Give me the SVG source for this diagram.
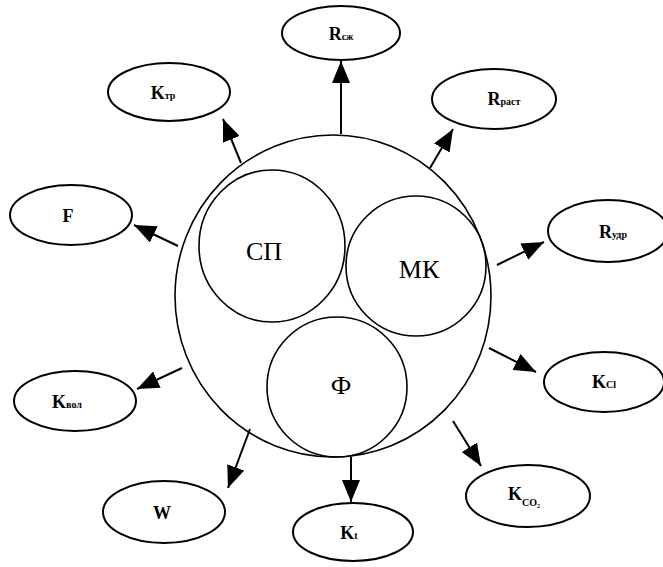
<svg xmlns="http://www.w3.org/2000/svg" width="663" height="567" viewBox="0 0 663 567">
<style>
.n{fill:#fff;stroke:#000;stroke-width:2}
.c{fill:none;stroke:#000;stroke-width:1.6}
.l{font-family:"Liberation Serif","DejaVu Serif",serif;font-weight:bold;font-size:18px;fill:#000;text-anchor:middle}
.s{font-size:10px}
.t{font-family:"Liberation Serif","DejaVu Serif",serif;font-size:26px;fill:#000;text-anchor:middle}
.a{stroke:#000;stroke-width:2;fill:none;marker-end:url(#ah)}
</style>
<defs>
<marker id="ah" markerUnits="userSpaceOnUse" markerWidth="24" markerHeight="18" refX="22" refY="9" orient="auto">
<path d="M0,0 L22,9 L0,18 Z" fill="#000"/>
</marker>
</defs>
<g id="core">
<ellipse class="c" cx="333" cy="296" rx="158" ry="161"/>
</g>
<g id="sp"><ellipse class="c" cx="272" cy="246" rx="73" ry="76"/><text class="t" x="264" y="260">СП</text></g>
<g id="mk"><ellipse class="c" cx="416" cy="266" rx="70" ry="70"/><text class="t" x="419" y="278">МК</text></g>
<g id="f_core"><ellipse class="c" cx="337" cy="387" rx="70" ry="70"/><text class="t" x="341" y="394">Ф</text></g>
<g id="connectors">
<line class="a" x1="241" y1="163" x2="223" y2="119"/>
<line class="a" x1="341" y1="134" x2="341" y2="61"/>
<line class="a" x1="430" y1="168" x2="453" y2="129"/>
<line class="a" x1="178" y1="246" x2="134" y2="225"/>
<line class="a" x1="497" y1="265" x2="544" y2="242"/>
<line class="a" x1="489" y1="348" x2="536" y2="372"/>
<line class="a" x1="182" y1="368" x2="137" y2="389"/>
<line class="a" x1="250" y1="429" x2="228" y2="488"/>
<line class="a" x1="351" y1="457" x2="351" y2="502"/>
<line class="a" x1="453" y1="421" x2="481" y2="466"/>
</g>
<g id="rszh"><ellipse class="n" cx="341" cy="33" rx="59" ry="27"/><text class="l" x="341" y="40">R<tspan class="s">сж</tspan></text></g>
<g id="ktr"><ellipse class="n" cx="169" cy="92" rx="61" ry="29"/><text class="l" x="163" y="99">K<tspan class="s">тр</tspan></text></g>
<g id="rrast"><ellipse class="n" cx="494" cy="99" rx="62" ry="30"/><text class="l" x="504" y="105">R<tspan class="s">раст</tspan></text></g>
<g id="F"><ellipse class="n" cx="71" cy="215" rx="61" ry="30"/><text class="l" x="68" y="222">F</text></g>
<g id="rudr"><ellipse class="n" cx="608" cy="231" rx="60" ry="31"/><text class="l" x="613" y="238">R<tspan class="s">удр</tspan></text></g>
<g id="kcl"><ellipse class="n" cx="604" cy="382" rx="60" ry="30"/><text class="l" x="604" y="388">K<tspan class="s">Cl</tspan></text></g>
<g id="kvol"><ellipse class="n" cx="75" cy="401" rx="61" ry="30"/><text class="l" x="67" y="408">K<tspan class="s">вол</tspan></text></g>
<g id="W"><ellipse class="n" cx="164" cy="512" rx="61" ry="31"/><text class="l" x="162" y="519">W</text></g>
<g id="kt"><ellipse class="n" cx="353" cy="532" rx="60" ry="29"/><text class="l" x="349" y="539">K<tspan class="s">t</tspan></text></g>
<g id="kco2"><ellipse class="n" cx="528" cy="496" rx="62" ry="31"/><text class="l" x="524" y="500">K<tspan class="s" dy="6">CO<tspan font-size="6" dy="2">2</tspan></tspan></text></g>
</svg>
